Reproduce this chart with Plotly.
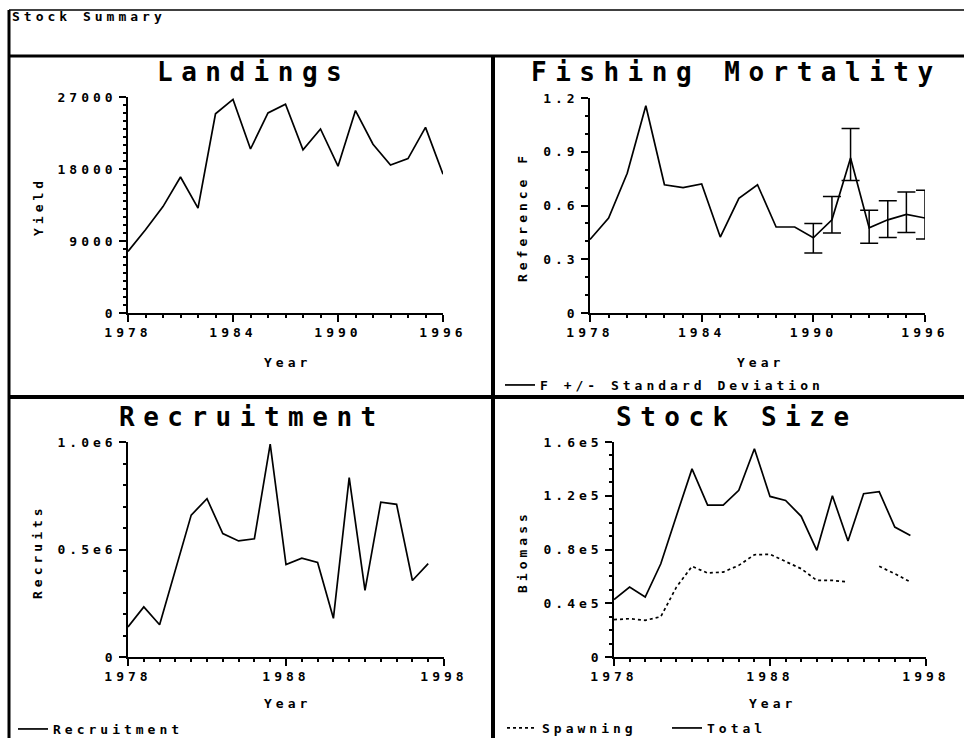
import plotly.graph_objects as go

# ==============================
# DATA
# ==============================

landing_years = list(range(1978, 1997))
landings = [7700, 10400, 13300, 17000, 13100, 24900, 26700, 20500, 25000, 26100,
            20400, 23000, 18350, 25300, 21100, 18500, 19300, 23200, 17350]

fm_years = list(range(1978, 1997))
fishing_f = [0.41, 0.53, 0.78, 1.157, 0.716, 0.70, 0.72, 0.424, 0.64, 0.716,
             0.48, 0.48, 0.42, 0.52, 0.865, 0.475, 0.52, 0.55, 0.53]

sd_years = list(range(1990, 1997))
sd_upper = [0.50, 0.65, 1.03, 0.573, 0.627, 0.675, 0.685]
sd_lower = [0.335, 0.447, 0.739, 0.39, 0.422, 0.45, 0.413]

rec_years = list(range(1978, 1998))
recruits = [140000, 233000, 150000, 400000, 660000, 736000, 574000, 540000, 550000, 990000,
            430000, 460000, 440000, 180000, 834000, 310000, 720000, 710000, 356000, 434000]

stock_years = list(range(1978, 1998))
total_biomass = [42700, 52000, 44600, 69400, 105000, 140000, 113000, 113000, 124000, 155000,
                 119500, 116500, 104700, 79400, 120000, 86300, 121500, 123000, 96700, 90500]
spawning_biomass = [27800, 28500, 27300, 30000, 52000, 67500, 62500, 63200, 68200, 76100,
                    76400, 71200, 65700, 57000, 57000, 55800, None, 67500, 62000, 55800]

landing_xticks = [1978, 1984, 1990, 1996]
landing_yticks = [0, 9000, 18000, 27000]
landing_ylabels = ["0", "9000", "18000", "27000"]

fm_xticks = [1978, 1984, 1990, 1996]
fm_yticks = [0, 0.3, 0.6, 0.9, 1.2]
fm_ylabels = ["0", "0.3", "0.6", "0.9", "1.2"]

rec_xticks = [1978, 1988, 1998]
rec_yticks = [0, 500000, 1000000]
rec_ylabels = ["0", "0.5e6", "1.0e6"]

stock_xticks = [1978, 1988, 1998]
stock_yticks = [0, 40000, 80000, 120000, 160000]
stock_ylabels = ["0", "0.4e5", "0.8e5", "1.2e5", "1.6e5"]

# ==============================
# HELPERS
# ==============================

W, H = 964, 738
FONT = "DejaVu Sans Mono"


def px(x):
    return x / W


def py(y):
    return (H - y) / H


def small(s):
    return f'<span style="letter-spacing:4px;font-weight:bold">{s}</span>'


def big(s):
    return f'<span style="letter-spacing:8.5px;font-weight:bold">{s}</span>'


def axis_style(domain, rng, tickvals, ticktext, minor_dtick, anchor):
    return dict(
        domain=domain,
        range=rng,
        anchor=anchor,
        automargin=False,
        tickmode="array",
        tickvals=tickvals,
        ticktext=ticktext,
        ticks="outside",
        ticklen=7,
        tickwidth=1.5,
        tickcolor="black",
        showline=True,
        linecolor="black",
        linewidth=1.5,
        showgrid=False,
        zeroline=False,
        tickfont=dict(family=FONT, size=13, color="black"),
        minor=dict(ticks="outside", ticklen=3, tickcolor="black",
                   tick0=0, dtick=minor_dtick, showgrid=False),
    )


LINE = dict(color="black", width=1.7)

# ==============================
# BUILD GRAPH
# ==============================

fig = go.Figure()

fig.add_trace(go.Scatter(
    x=landing_years, y=landings, mode="lines", line=LINE,
    showlegend=False, xaxis="x", yaxis="y"
))

fig.add_trace(go.Scatter(
    x=fm_years, y=fishing_f, mode="lines", line=LINE,
    name=small("F +/- Standard Deviation"), legend="legend",
    xaxis="x2", yaxis="y2"
))

fm_center = [fishing_f[fm_years.index(yr)] for yr in sd_years]
fig.add_trace(go.Scatter(
    x=sd_years, y=fm_center, mode="markers",
    marker=dict(size=1, color="rgba(0,0,0,0)"),
    error_y=dict(
        type="data", symmetric=False,
        array=[u - c for u, c in zip(sd_upper, fm_center)],
        arrayminus=[c - l for c, l in zip(fm_center, sd_lower)],
        color="black", thickness=1.5, width=9
    ),
    showlegend=False, hoverinfo="skip",
    xaxis="x2", yaxis="y2"
))

fig.add_trace(go.Scatter(
    x=rec_years, y=recruits, mode="lines", line=LINE,
    name=small("Recruitment"), legend="legend2",
    xaxis="x3", yaxis="y3"
))

fig.add_trace(go.Scatter(
    x=stock_years, y=spawning_biomass, mode="lines",
    line=dict(color="black", width=1.7, dash="dot"),
    name=small("Spawning"), legend="legend3",
    connectgaps=False, xaxis="x4", yaxis="y4"
))

fig.add_trace(go.Scatter(
    x=stock_years, y=total_biomass, mode="lines", line=LINE,
    name=small("Total"), legend="legend3",
    xaxis="x4", yaxis="y4"
))

# ==============================
# AXES
# ==============================

fig.update_layout(
    xaxis=axis_style([px(128), px(443)], [1978, 1996], landing_xticks,
                     [small(str(t)) for t in landing_xticks], 1, "y"),
    yaxis=axis_style([py(313), py(97)], [0, 27000], landing_yticks,
                     [small(t) for t in landing_ylabels], 1000, "x"),
    xaxis2=axis_style([px(590), px(925)], [1978, 1996], fm_xticks,
                      [small(str(t)) for t in fm_xticks], 1, "y2"),
    yaxis2=axis_style([py(313), py(98)], [0, 1.2], fm_yticks,
                      [small(t) for t in fm_ylabels], 0.1, "x2"),
    xaxis3=axis_style([px(128), px(444)], [1978, 1998], rec_xticks,
                      [small(str(t)) for t in rec_xticks], 1, "y3"),
    yaxis3=axis_style([py(657), py(442)], [0, 1000000], rec_yticks,
                      [small(t) for t in rec_ylabels], 100000, "x3"),
    xaxis4=axis_style([px(614), px(926)], [1978, 1998], stock_xticks,
                      [small(str(t)) for t in stock_xticks], 1, "y4"),
    yaxis4=axis_style([py(657), py(442)], [0, 160000], stock_yticks,
                      [small(t) for t in stock_ylabels], 10000, "x4"),
)

# ==============================
# TEXT
# ==============================

annotations = [
    dict(x=px(10), y=py(17), text=small("Stock Summary"), xanchor="left"),
    dict(x=px(253), y=py(72), text=big("Landings"), size=26),
    dict(x=px(736), y=py(72), text=big("Fishing Mortality"), size=26),
    dict(x=px(252), y=py(417), text=big("Recruitment"), size=26),
    dict(x=px(737), y=py(417), text=big("Stock Size"), size=26),
    dict(x=px(38), y=py(207), text=small("Yield"), textangle=-90),
    dict(x=px(522), y=py(217), text=small("Reference F"), textangle=-90),
    dict(x=px(37), y=py(552), text=small("Recruits"), textangle=-90),
    dict(x=px(522), y=py(552), text=small("Biomass"), textangle=-90),
    dict(x=px(287), y=py(362), text=small("Year")),
    dict(x=px(760), y=py(362), text=small("Year")),
    dict(x=px(287), y=py(703), text=small("Year")),
    dict(x=px(772), y=py(703), text=small("Year")),
]

for a in annotations:
    size = a.pop("size", 13)
    a.setdefault("xanchor", "center")
    fig.add_annotation(
        xref="paper", yref="paper", yanchor="middle", showarrow=False,
        font=dict(family=FONT, size=size, color="black"), **a
    )

# ==============================
# FRAME
# ==============================

frame = [
    (9, 10, 964, 10, 1.5),
    (9, 56, 964, 56, 3),
    (9, 10, 9, 738, 3),
    (493, 56, 493, 738, 4),
    (9, 397, 964, 397, 4),
]

for x0, y0, x1, y1, w in frame:
    fig.add_shape(
        type="line", xref="paper", yref="paper",
        x0=px(x0), y0=py(y0), x1=px(x1), y1=py(y1),
        line=dict(color="black", width=w)
    )

# ==============================
# STYLE
# ==============================

legend_base = dict(
    orientation="h", bgcolor="rgba(0,0,0,0)", xanchor="left", yanchor="middle",
    font=dict(family=FONT, size=13, color="black"), itemwidth=30
)

fig.update_layout(
    width=W,
    height=H,
    paper_bgcolor="white",
    plot_bgcolor="white",
    margin=dict(l=0, r=0, t=0, b=0, autoexpand=False),
    showlegend=True,
    legend=dict(legend_base, x=px(500), y=py(385)),
    legend2=dict(legend_base, x=px(13), y=py(729)),
    legend3=dict(legend_base, x=px(502), y=py(728), entrywidth=120),
)

fig.write_html(
    "out.html",
    config={"displayModeBar": False},
    post_script="document.body.style.margin = '0';",
)
